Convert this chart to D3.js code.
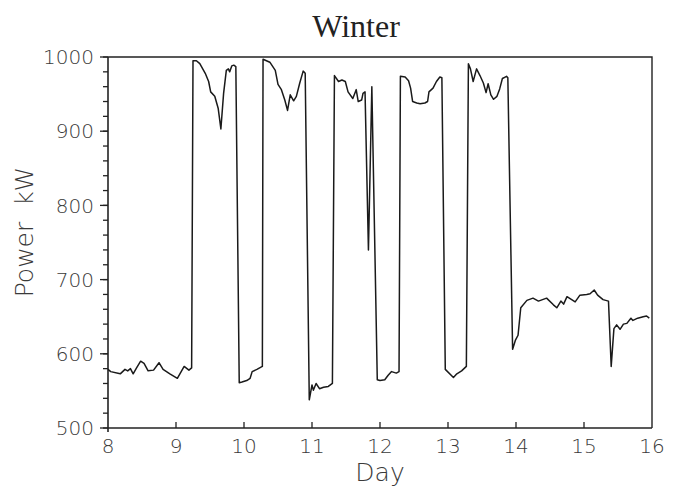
<!DOCTYPE html>
<html>

<head>
    <title>Winter</title>
    <script src="https://d3js.org/d3.v7.min.js"></script>
    <style>
        body {
            margin: 0;
            background: #fff;
        }

        .chart text {
            font-family: "DejaVu Sans", sans-serif;
            font-weight: 200;
            fill: #3a3a3a;
        }

        .chart .title {
            font-family: "Liberation Serif", "Times New Roman", serif;
            font-weight: normal;
            fill: #222;
        }
    </style>
</head>

<body>
    <div id="chart" class="chart"></div>

    <script>
        // day of month (x) and power in kW (y)
        const days = [
            8.00, 8.04, 8.18, 8.25, 8.29, 8.33, 8.37, 8.42, 8.48, 8.53, 8.59, 8.67, 8.75, 8.81, 8.91, 9.02, 9.12, 9.19, 9.23,
            9.25, 9.30, 9.35, 9.43, 9.48, 9.51, 9.57, 9.62, 9.66, 9.70, 9.74, 9.77, 9.79, 9.82, 9.85, 9.88,
            9.93, 9.97, 10.04, 10.09, 10.12, 10.19, 10.27,
            10.28, 10.38, 10.46, 10.50, 10.55, 10.60, 10.64, 10.68, 10.73, 10.77, 10.82, 10.87, 10.90,
            10.96, 11.00, 11.02, 11.06, 11.11, 11.17, 11.24, 11.30,
            11.33, 11.39, 11.44, 11.49, 11.53, 11.60, 11.65, 11.68, 11.73, 11.75, 11.78, 11.83, 11.88,
            11.96, 12.00, 12.07, 12.12, 12.17, 12.24, 12.28,
            12.30, 12.37, 12.42, 12.45, 12.48, 12.54, 12.59, 12.66, 12.70, 12.72, 12.78, 12.83, 12.88, 12.91,
            12.96, 13.08, 13.13, 13.20, 13.27,
            13.30, 13.33, 13.37, 13.42, 13.47, 13.52, 13.56, 13.59, 13.63, 13.67, 13.72, 13.76, 13.80, 13.84, 13.86, 13.88,
            13.95, 13.99, 14.03, 14.07, 14.16, 14.25, 14.33, 14.45, 14.55, 14.60, 14.66, 14.70, 14.75, 14.87, 14.94,
            15.04, 15.09, 15.15, 15.20, 15.28, 15.36,
            15.40, 15.44, 15.48, 15.53, 15.58, 15.63, 15.69, 15.72, 15.79, 15.87, 15.92, 15.96
        ];

        const power = [
            579, 576, 573, 579, 577, 580, 573, 581, 590, 587, 577, 578, 588, 579, 573, 567, 583, 578, 581,
            995, 995, 991, 978, 967, 953, 947, 931, 903, 951, 982, 984, 980, 988, 989, 987,
            561, 562, 564, 567, 576, 579, 583,
            997, 993, 982, 963, 956, 942, 928, 949, 941, 947, 965, 981, 978,
            538, 558, 551, 560, 553, 555, 556, 560,
            975, 967, 969, 967, 953, 944, 956, 940, 942, 951, 953, 740, 960,
            565, 564, 565, 571, 576, 574, 576,
            974, 973, 968, 958, 940, 938, 937, 938, 940, 953, 958, 967, 973, 972,
            579, 568, 573, 577, 583,
            991, 984, 967, 984, 975, 965, 952, 964, 949, 943, 947, 957, 971, 973, 974, 972,
            606, 618, 625, 662, 672, 675, 671, 675, 666, 662, 671, 667, 677, 670, 679,
            680, 681, 686, 679, 673, 671,
            583, 634, 639, 633, 640, 641, 648, 645, 648, 650, 651, 648
        ];

        const xTicks = [8, 9, 10, 11, 12, 13, 14, 15, 16];
        const yTicks = [500, 600, 700, 800, 900, 1000];
        const yMinorTicks = d3.range(500, 1001, 20);

        drawChart();

        function drawChart() {
            const totalWidth = 683,
                  totalHeight = 486;
            const margin = { top: 57, right: 31, bottom: 58, left: 108 },
                  width = totalWidth - margin.left - margin.right,
                  height = totalHeight - margin.top - margin.bottom;

            const root = d3.select('#chart')
                .append('svg')
                .attr('width', totalWidth)
                .attr('height', totalHeight);

            root.append('text')
                .attr('class', 'title')
                .attr('x', 356)
                .attr('y', 37)
                .attr('text-anchor', 'middle')
                .style('font-size', '32px')
                .text('Winter');

            const svg = root.append('g')
                .attr('transform', `translate(${margin.left},${margin.top})`);

            const x = d3.scaleLinear().domain([8, 16]).range([0, width]);
            const y = d3.scaleLinear().domain([500, 1000]).range([height, 0]);

            // frame: top and right sides
            svg.append('path')
                .attr('d', `M0,0H${width}V${height}`)
                .attr('fill', 'none')
                .attr('stroke', '#222')
                .attr('stroke-width', 1.4);

            // left axis with minor ticks every 20 kW
            svg.append('line')
                .attr('x1', 0).attr('x2', 0)
                .attr('y1', 0).attr('y2', height + 4)
                .attr('stroke', '#222')
                .attr('stroke-width', 1.6);

            svg.selectAll('.yminor')
                .data(yMinorTicks)
                .enter().append('line')
                .attr('class', 'yminor')
                .attr('x1', -5).attr('x2', 0)
                .attr('y1', d => y(d)).attr('y2', d => y(d))
                .attr('stroke', '#222')
                .attr('stroke-width', 1.3);

            svg.selectAll('.ymajor')
                .data(yTicks)
                .enter().append('line')
                .attr('class', 'ymajor')
                .attr('x1', -8).attr('x2', 0)
                .attr('y1', d => y(d)).attr('y2', d => y(d))
                .attr('stroke', '#222')
                .attr('stroke-width', 1.3);

            svg.selectAll('.ylabel')
                .data(yTicks)
                .enter().append('text')
                .attr('class', 'ylabel')
                .attr('x', -14)
                .attr('y', d => y(d))
                .attr('dy', '0.36em')
                .attr('text-anchor', 'end')
                .style('font-size', '20px')
                .text(d => d);

            // bottom axis, ticks pointing inward
            svg.append('line')
                .attr('x1', 0).attr('x2', width)
                .attr('y1', height).attr('y2', height)
                .attr('stroke', '#222')
                .attr('stroke-width', 1.4);

            svg.selectAll('.xtick')
                .data(xTicks.slice(1, -1))
                .enter().append('line')
                .attr('class', 'xtick')
                .attr('x1', d => x(d)).attr('x2', d => x(d))
                .attr('y1', height).attr('y2', height - 6)
                .attr('stroke', '#222')
                .attr('stroke-width', 1.3);

            svg.selectAll('.xlabel')
                .data(xTicks)
                .enter().append('text')
                .attr('class', 'xlabel')
                .attr('x', d => x(d))
                .attr('y', height + 25)
                .attr('text-anchor', 'middle')
                .style('font-size', '20px')
                .text(d => d);

            // axis titles
            svg.append('text')
                .attr('x', width / 2)
                .attr('y', height + 53)
                .attr('text-anchor', 'middle')
                .style('font-size', '25px')
                .text('Day');

            svg.append('text')
                .attr('transform', `translate(${-75},${175}) rotate(-90)`)
                .attr('text-anchor', 'middle')
                .style('font-size', '25px')
                .style('white-space', 'pre')
                .text('Power  kW');

            const points = days.map((d, i) => [d, power[i]]);

            const line = d3.line()
                .x(d => x(d[0]))
                .y(d => y(d[1]));

            svg.append('path')
                .datum(points)
                .attr('fill', 'none')
                .attr('stroke', '#1a1a1a')
                .attr('stroke-width', 1.5)
                .attr('stroke-linejoin', 'round')
                .attr('d', line);
        }
    </script>
</body>

</html>
